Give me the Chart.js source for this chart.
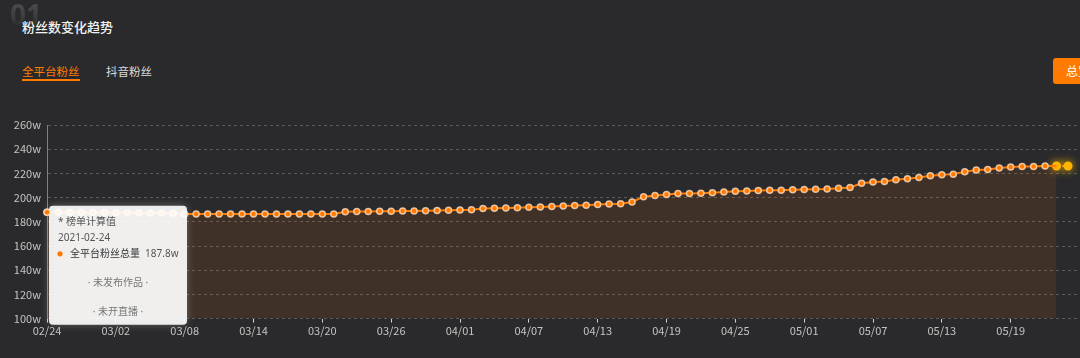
<!DOCTYPE html>
<html><head><meta charset="utf-8">
<script src="https://cdn.jsdelivr.net/npm/chart.js@4.4.1/dist/chart.umd.min.js"></script>
<style>
html,body{margin:0;padding:0;background:#2a2a2c;width:1080px;height:358px;overflow:hidden;font-family:'Noto Sans CJK SC',sans-serif;position:relative;}
.big{position:absolute;left:10px;top:0px;font:bold 28px/29px 'Noto Sans',sans-serif;background:linear-gradient(#2a2a2c 0%,#4a4a4d 18%,#3e3e41 55%,#2c2c2e 95%);-webkit-background-clip:text;background-clip:text;color:transparent;}
.title{position:absolute;left:22px;top:18px;font-size:13px;line-height:18px;color:#f2f2f2;font-weight:500;}
.tab{position:absolute;top:63px;font-size:11.5px;line-height:17px;}
.tab1{left:22px;color:#ff7a00;}
.tab1:after{content:'';position:absolute;left:0;right:0;top:16px;height:1.5px;background:#ff7a00;}
.tab2{left:106px;color:#dcdcdc;}
.btn{position:absolute;left:1053px;top:58px;width:60px;height:26px;border-radius:3px;background:#ff7a00;color:#fff;font-size:12px;line-height:26px;padding-left:13px;box-sizing:border-box;}
#wrap{position:absolute;left:0;top:100px;width:1085px;height:258px;}
</style></head>
<body>
<div class="big">01</div>
<div class="title">粉丝数变化趋势</div>
<div class="tab tab1">全平台粉丝</div>
<div class="tab tab2">抖音粉丝</div>
<div class="btn">总览</div>
<div id="wrap"><canvas id="c"></canvas></div>
<script>
const dates = ['02/24','02/25','02/26','02/27','02/28',
'03/01','03/02','03/03','03/04','03/05','03/06','03/07','03/08','03/09','03/10','03/11','03/12','03/13','03/14','03/15','03/16','03/17','03/18','03/19','03/20','03/21','03/22','03/23','03/24','03/25','03/26','03/27','03/28','03/29','03/30','03/31',
'04/01','04/02','04/03','04/04','04/05','04/06','04/07','04/08','04/09','04/10','04/11','04/12','04/13','04/14','04/15','04/16','04/17','04/18','04/19','04/20','04/21','04/22','04/23','04/24','04/25','04/26','04/27','04/28','04/29','04/30',
'05/01','05/02','05/03','05/04','05/05','05/06','05/07','05/08','05/09','05/10','05/11','05/12','05/13','05/14','05/15','05/16','05/17','05/18','05/19','05/20','05/21','05/22','05/23','05/24','05/25'];
const fansTotal = [
187.8,187.8,187.7,187.7,187.6,187.6,187.5,187.5,187.4,187.3,187.2,187.0,
186.5,186.5,186.4,186.4,186.4,186.4,186.4,186.4,186.4,186.4,186.4,186.5,186.5,186.5,
188.3,188.5,188.6,188.7,188.8,188.9,189.0,189.1,189.3,189.5,189.7,190.0,
190.9,191.2,191.5,191.7,192.0,192.3,192.6,193.1,193.4,193.7,194.2,194.8,195.0,196.4,
200.8,201.7,202.5,203.3,203.3,203.6,204.1,204.7,205.2,205.5,205.8,
206.1,206.1,206.4,206.7,206.9,207.2,207.8,208.3,211.9,212.8,213.3,214.7,215.6,216.7,218.1,218.9,219.4,221.4,222.8,223.3,224.4,225.3,225.6,225.8,226.1,226.1,226.1];
const lastFinalIndex = 88;
const yTicks = [100,120,140,160,180,200,220,240,260];
const seriesName = '全平台粉丝总量';
const tipIndex = 0;
const tipYear = '2021';
const tipNote = '* 榜单计算值';
const tipLines = ['· 未发布作品 ·','· 未开直播 ·'];

const ORANGE = '#ff7a00', GOLD = '#ffb400';
const mainData = fansTotal.map((v,i)=> i<=lastFinalIndex ? v : null);
const goldData = fansTotal.map((v,i)=> i>=lastFinalIndex ? v : null);

const glow = {
  id:'glow',
  beforeDatasetDraw(chart,args){ if(args.index===1){ const c=chart.ctx; c.save(); c.shadowColor='rgba(255,190,0,0.95)'; c.shadowBlur=8; } },
  afterDatasetDraw(chart,args){ if(args.index===1){ chart.ctx.restore(); } }
};
const tip = {
  id:'tip',
  afterDraw(chart){
    const pt = chart.getDatasetMeta(0).data[tipIndex];
    const c = chart.ctx;
    const x = pt.x + 2, y = pt.y - 6.5, w = 138, h = 119;
    c.save();
    c.shadowColor='rgba(210,210,210,0.35)'; c.shadowBlur=8;
    c.fillStyle='rgba(255,255,255,0.9)';
    c.beginPath(); c.roundRect(x,y,w,h,4); c.fill();
    c.restore();
    c.save();
    c.textBaseline='middle';
    c.font='10px "Noto Sans", "Noto Sans CJK SC", sans-serif';
    c.fillStyle='#555'; c.textAlign='left';
    c.fillText(tipNote, x+9, y+16.7);
    c.fillText(tipYear+'-'+dates[tipIndex].replace('/','-'), x+9, y+32.3);
    c.fillStyle=ORANGE; c.beginPath(); c.arc(x+11, y+48, 2.6, 0, Math.PI*2); c.fill();
    c.fillStyle='#333'; c.fillText(seriesName, x+21, y+48);
    c.fillStyle='#555'; c.textAlign='right'; c.fillText(fansTotal[tipIndex].toFixed(1)+'w', x+129.5, y+48);
    c.fillStyle='#777'; c.textAlign='center';
    c.fillText(tipLines[0], x+w/2, y+77.7);
    c.fillText(tipLines[1], x+w/2, y+106.7);
    c.restore();
    pt.draw(c);
  }
};

new Chart(document.getElementById('c'), {
  type:'line',
  data:{ labels:dates, datasets:[
    { data:mainData, borderColor:ORANGE, borderWidth:2, tension:0,
      fill:'start', backgroundColor:'rgba(255,122,0,0.1)',
      pointRadius:(ctx)=> ctx.dataIndex>=lastFinalIndex ? 0 : 3,
      pointBackgroundColor:ORANGE, pointBorderColor:'rgba(255,222,195,0.8)', pointBorderWidth:1.5 },
    { data:goldData, borderColor:GOLD, borderWidth:2, borderDash:[3,3], fill:false,
      pointRadius:4.5, pointBackgroundColor:GOLD, pointBorderColor:GOLD, pointBorderWidth:0 }
  ]},
  options:{
    responsive:true, maintainAspectRatio:false, animation:false,
    events:[],
    layout:{ padding:{ top:25, right:0, left:0, bottom:0 } },
    plugins:{ legend:{display:false}, tooltip:{enabled:false} },
    scales:{
      x:{ type:'category',
        afterFit(s){ s.height = 39.4; },
        border:{display:false},
        grid:{ drawOnChartArea:false, drawTicks:true, tickLength:4, color:'#d0d0d0', lineWidth:1 },
        ticks:{ autoSkip:false, maxRotation:0, padding:2, color:'#c4c4c4',
          font:{ size:11, family:'"Noto Sans CJK SC", sans-serif' },
          callback:(v,i)=> (i%6===0 && i<fansTotal.length) ? dates[i] : null }
      },
      y:{ min:yTicks[0], max:yTicks[yTicks.length-1],
        afterFit(s){ s.width = 47; },
        afterBuildTicks(s){ s.ticks = yTicks.map(v=>({value:v})); },
        border:{ display:true, color:'rgba(190,190,190,0.6)', width:1, dash:[3,3] },
        grid:{ drawTicks:false, color:'#5a5a5c', lineWidth:1 },
        ticks:{ padding:6, color:'#c4c4c4', font:{ size:11, family:'"Noto Sans CJK SC", sans-serif' },
          callback:(v)=> v+'w' }
      }
    }
  },
  plugins:[glow, tip]
});
</script>
</body></html>
